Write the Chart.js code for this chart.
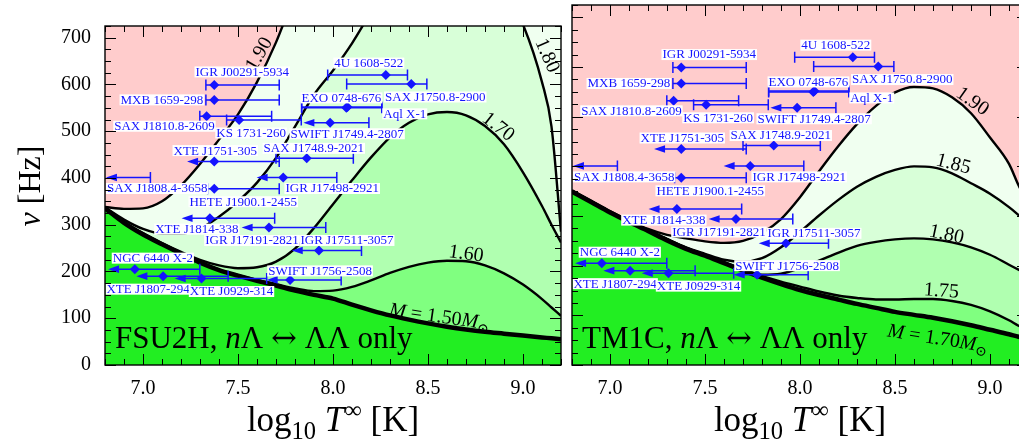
<!DOCTYPE html>
<html>
<head>
<meta charset="utf-8">
<script src="https://cdn.jsdelivr.net/npm/chart.js@4.4.1/dist/chart.umd.min.js"></script>
<style>
  html, body { margin: 0; padding: 0; background: #fff; overflow: hidden; }
  #wrap { position: relative; width: 1019px; height: 448px; overflow: hidden; }
  #left { position: absolute; left: 0; top: 0; }
  #right { position: absolute; left: 566px; top: 0; }
</style>
</head>
<body>
<div id="wrap">
  <canvas id="left" width="566" height="448"></canvas>
  <canvas id="right" width="470" height="448"></canvas>
</div>
<script>
// log10 T grid shared by all boundary curves
const temps = [6.8, 6.9, 7.0, 7.1, 7.2, 7.3, 7.4, 7.5, 7.6, 7.7, 7.8, 7.9, 8.0,
               8.1, 8.2, 8.3, 8.4, 8.5, 8.6, 8.7, 8.8, 8.9, 9.0, 9.1, 9.15, 9.2];

// FSU2H: instability boundary (Hz) for each mass
const fsuM150 = [335, 304, 279, 258, 238, 219, 203, 191, 180, 170, 159, 150, 142, 129, 117, 106, 97, 89, 82, 76, 71, 67, 63, 59, 57, 55];
const fsuM160 = [336, 305, 280, 259, 239, 220, 204, 192, 182, 173, 164, 158, 159, 167, 181, 197, 210, 219, 223, 222, 213, 196, 172, 141, 123, 105];
const fsuM170 = [336, 306, 282, 261, 242, 225, 213, 207, 209, 221, 249, 293, 344, 395, 444, 487, 518, 536, 541, 534, 511, 472, 412, 340, 300, 262];
const fsuM180 = [337, 311, 291, 281, 281, 292, 317, 350, 390, 443, 510, 578, 630, 688, 755, 820, 868, 896, 906, 898, 862, 802, 728, 605, 510, 285];
const fsuM190 = [338, 334, 335, 350, 384, 430, 482, 536, 605, 690, 795, 900, 1000, 1080, 1130, 1150, 1160, 1160, 1160, 1160, 1160, 1160, 1160, 1160, 1160, 1160];

// TM1C
const tmM170 = [349, 328, 307, 288, 270, 251, 234, 220, 205, 190, 176, 163, 151, 141, 132, 123, 115, 107, 101, 95, 88, 80, 71, 62, 57, 53];
const tmM175 = [350, 329, 308, 289, 271, 252, 235, 221, 206, 192, 179, 168, 158, 148, 140, 135, 132, 132, 133, 133, 129, 121, 108, 90, 79, 70];
const tmM180 = [350, 329, 308, 289, 271, 253, 236, 222, 207, 193, 182, 184, 195, 210, 226, 240, 248, 253, 255, 253, 247, 237, 222, 202, 192, 182];
const tmM185 = [351, 330, 309, 290, 272, 254, 237, 224, 212, 208, 215, 237, 268, 301, 332, 359, 379, 393, 400, 398, 386, 366, 345, 318, 302, 285];
const tmM190 = [352, 331, 310, 291, 274, 262, 255, 249, 246, 250, 266, 294, 338, 390, 440, 485, 522, 549, 560, 557, 539, 507, 458, 405, 362, 325];

// observed LMXBs
const srcNames = ['IGR J00291-5934', 'MXB 1659-298', 'SAX J1810.8-2609', 'KS 1731-260',
  'SWIFT J1749.4-2807', 'EXO 0748-676', 'Aql X-1', '4U 1608-522', 'SAX J1750.8-2900',
  'XTE J1751-305', 'SAX J1748.9-2021', 'SAX J1808.4-3658', 'IGR J17498-2921',
  'HETE J1900.1-2455', 'XTE J1814-338', 'IGR J17191-2821', 'IGR J17511-3057',
  'NGC 6440 X-2', 'XTE J1807-294', 'XTE J0929-314', 'SWIFT J1756-2508'];
const srcLogT = [7.375, 7.375, 7.335, 7.506, 7.985, 8.076, 8.070, 8.278, 8.412,
  7.375, 7.862, 6.700, 7.738, 7.375, 7.352, 7.663, 7.926, 6.957, 7.106, 7.308, 7.774];
const srcFreq = [599, 567, 532, 524, 518, 552, 550, 620, 601,
  435, 442, 401, 401, 377, 314, 294, 245, 205, 190, 185, 182];
const srcLow = [7.331, 7.331, 7.299, 7.440, 7.844, 7.835, 7.835, 7.972, 8.072,
  7.232, 7.700, 6.805, 7.598, 7.340, 7.203, 7.519, 7.783, 6.816, 6.965, 7.167, 7.651];
const srcHigh = [7.717, 7.717, 7.677, 7.833, 8.189, 8.257, 8.257, 8.392, 8.494,
  7.717, 8.107, 7.039, 8.020, 7.717, 7.693, 7.962, 8.150, 7.299, 7.448, 7.651, 8.043];
const srcUpperLimit = [false, false, false, false, true, false, false, false, false,
  true, false, true, true, false, true, true, true, true, true, true, true];

const xTickValues = [7.0, 7.5, 8.0, 8.5, 9.0];
const yTickValues = [0, 100, 200, 300, 400, 500, 600, 700];

// ---- layout / style ----
const SERIF = '"Liberation Serif", "DejaVu Serif", serif';
const BLUE = '#1414ff';
const fillColors = ['#22ee22', '#80ff80', '#b0ffb0', '#d8ffd8', '#f0fff0'];
const PINK = '#ffcccc';

// source label placement: [dx, dy, align] in px from the diamond
const labelPlace = {
  'IGR J00291-5934': [28, -13, 'center'], 'MXB 1659-298': [-11, 0, 'right'],
  'SAX J1810.8-2609': [8, 10, 'right'], 'KS 1731-260': [12, 13, 'center'],
  'SWIFT J1749.4-2807': [17, 11, 'center'], 'EXO 0748-676': [-6, -9, 'center'],
  'Aql X-1': [37, 6, 'left'], '4U 1608-522': [-17, -12, 'center'],
  'SAX J1750.8-2900': [24, 13, 'center'], 'XTE J1751-305': [1, -11, 'center'],
  'SAX J1748.9-2021': [7, -10, 'center'], 'SAX J1808.4-3658': [21, 11, 'left'],
  'IGR J17498-2921': [49, 11, 'center'], 'HETE J1900.1-2455': [29, 13, 'center'],
  'XTE J1814-338': [-13, 11, 'center'], 'IGR J17191-2821': [-17, 13, 'center'],
  'IGR J17511-3057': [28, -10, 'center'], 'NGC 6440 X-2': [18, -11, 'center'],
  'XTE J1807-294': [-15, 13, 'center'], 'XTE J0929-314': [30, 13, 'center'],
  'SWIFT J1756-2508': [30, -9, 'center']
};

const mLabel = m => [{ t: 'M', it: 1 }, { t: ' = ' + m }, { t: 'M', it: 1 }, { t: '\u2299', sub: 1 }];
const fsuCurveLabels = [
  { segs: [{ t: '1.90' }], x: 7.637, y: 674, rot: -60 },
  { segs: [{ t: '1.80' }], x: 9.100, y: 672, rot: 66 },
  { segs: [{ t: '1.70' }], x: 8.852, y: 515, rot: 38 },
  { segs: [{ t: '1.60' }], x: 8.697, y: 241, rot: 8 },
  { segs: mLabel('1.50'), x: 8.556, y: 106, rot: 8 }
];
const tmCurveLabels = [
  { segs: [{ t: '1.90' }], x: 8.891, y: 536, rot: 35 },
  { segs: [{ t: '1.85' }], x: 8.800, y: 408, rot: 15 },
  { segs: [{ t: '1.80' }], x: 8.765, y: 266, rot: 12 },
  { segs: [{ t: '1.75' }], x: 8.742, y: 152, rot: 4 },
  { segs: mLabel('1.70'), x: 8.720, y: 56, rot: 9 }
];

function segFont(sg, size) {
  const s = (sg.sub || sg.sup) ? size * 0.7 : size;
  const fam = sg.fam || SERIF;
  return (sg.it ? 'italic ' : '') + s + 'px ' + fam;
}

// draw mixed roman/italic/sub/sup text, (x, y) is the baseline anchor
function drawRich(ctx, segs, x, y, size, align, rot) {
  ctx.save();
  ctx.translate(x, y);
  if (rot) ctx.rotate(rot * Math.PI / 180);
  let w = 0;
  segs.forEach(sg => { ctx.font = segFont(sg, size); w += ctx.measureText(sg.t).width; });
  let cx = align === 'center' ? -w / 2 : (align === 'right' ? -w : 0);
  ctx.textAlign = 'left';
  ctx.textBaseline = 'alphabetic';
  ctx.fillStyle = '#000';
  segs.forEach(sg => {
    ctx.font = segFont(sg, size);
    const dy = sg.sub ? size * 0.22 : (sg.sup ? -size * 0.38 : 0);
    ctx.fillText(sg.t, cx, dy);
    cx += ctx.measureText(sg.t).width;
  });
  ctx.restore();
}

const backgroundPlugin = {
  id: 'pinkBg',
  beforeDatasetsDraw(chart) {
    const { ctx, chartArea: a } = chart;
    ctx.save();
    ctx.fillStyle = PINK;
    ctx.fillRect(a.left, a.top, a.right - a.left, a.bottom - a.top);
    ctx.restore();
  }
};

const sourcesPlugin = {
  id: 'sources',
  afterDatasetsDraw(chart) {
    const { ctx, chartArea: a, scales: { x, y } } = chart;
    ctx.save();
    ctx.beginPath();
    ctx.rect(a.left, a.top, a.right - a.left, a.bottom - a.top);
    ctx.clip();

    // curve labels
    chart.options.plugins.sources.curveLabels.forEach(cl => {
      drawRich(ctx, cl.segs, x.getPixelForValue(cl.x), y.getPixelForValue(cl.y) + 7, 20, 'center', cl.rot);
    });

    // error bars and upper limits
    ctx.strokeStyle = BLUE;
    ctx.fillStyle = BLUE;
    ctx.lineWidth = 1.5;
    srcNames.forEach((name, i) => {
      const py = y.getPixelForValue(srcFreq[i]);
      const xl = x.getPixelForValue(srcLow[i]);
      const xh = x.getPixelForValue(srcHigh[i]);
      ctx.beginPath();
      ctx.moveTo(xl + (srcUpperLimit[i] ? 6 : 0), py);
      ctx.lineTo(xh, py);
      ctx.moveTo(xh, py - 5.5);
      ctx.lineTo(xh, py + 5.5);
      if (!srcUpperLimit[i]) {
        ctx.moveTo(xl, py - 5.5);
        ctx.lineTo(xl, py + 5.5);
      }
      ctx.stroke();
      if (srcUpperLimit[i]) {
        ctx.beginPath();
        ctx.moveTo(xl, py);
        ctx.lineTo(xl + 11, py - 3.8);
        ctx.lineTo(xl + 11, py + 3.8);
        ctx.closePath();
        ctx.fill();
      }
    });

    // source names
    ctx.font = '13px ' + SERIF;
    ctx.textBaseline = 'middle';
    srcNames.forEach((name, i) => {
      const [dx, dy, align] = labelPlace[name];
      const px = x.getPixelForValue(srcLogT[i]) + dx;
      const py = y.getPixelForValue(srcFreq[i]) + dy;
      const w = ctx.measureText(name).width;
      const left = align === 'center' ? px - w / 2 : (align === 'right' ? px - w : px);
      ctx.fillStyle = '#fff';
      ctx.fillRect(left - 1, py - 5.5, w + 2, 11);
      ctx.fillStyle = BLUE;
      ctx.textAlign = 'left';
      ctx.fillText(name, left, py + 0.5);
    });
    ctx.restore();
  },
  afterDraw(chart) {
    const { ctx, chartArea: a, scales: { x, y } } = chart;
    const opts = chart.options.plugins.sources;
    ctx.save();
    ctx.strokeStyle = '#000';
    ctx.lineWidth = 1;
    ctx.beginPath();
    for (let k = Math.round(x.min * 10); k <= Math.round(x.max * 10); k++) {
      const px = Math.round(x.getPixelForValue(k / 10)) + 0.5;
      const len = k % 5 === 0 ? 11 : 6;
      ctx.moveTo(px, a.bottom); ctx.lineTo(px, a.bottom - len);
      ctx.moveTo(px, a.top); ctx.lineTo(px, a.top + len);
    }
    for (let v = 0; v <= y.max; v += 25) {
      const py = Math.round(y.getPixelForValue(v)) + 0.5;
      const len = v % 100 === 0 ? 11 : 6;
      ctx.moveTo(a.left, py); ctx.lineTo(a.left + len, py);
      ctx.moveTo(a.right, py); ctx.lineTo(a.right - len, py);
    }
    ctx.stroke();
    ctx.lineWidth = 1.4;
    ctx.strokeRect(a.left, a.top, a.right - a.left, a.bottom - a.top);
    ctx.restore();

    // panel tag
    drawRich(ctx, opts.tag, a.left + 10, 348, 31, 'left', 0);
    // x title
    drawRich(ctx, [{ t: 'log' }, { t: '10', sub: 1 }, { t: ' ' }, { t: 'T', it: 1 }, { t: '\u221E', sup: 1 }, { t: ' [K]' }],
      (a.left + a.right) / 2, 431, 35, 'center', 0);
    if (opts.yTitle) {
      drawRich(ctx, [{ t: '\u03BD', it: 1 }, { t: ' [Hz]' }], 40, 186, 32, 'center', -90);
    }
  }
};

function makePanel(id, curves, curveLabels, tag, showY, padding) {
  const datasets = curves.map((c, i) => ({
    data: temps.map((t, j) => ({ x: t, y: c[j] })),
    borderColor: '#000',
    borderWidth: i === 0 ? 4.5 : 2.4,
    backgroundColor: fillColors[i],
    fill: i === 0 ? 'start' : '-1',
    pointRadius: 0,
    cubicInterpolationMode: 'monotone',
    clip: 0,
    order: 0
  }));
  datasets.push({
    data: srcLogT.map((t, i) => ({ x: t, y: srcFreq[i] })),
    showLine: false,
    pointStyle: 'rectRot',
    pointRadius: 5,
    backgroundColor: BLUE,
    borderColor: BLUE,
    borderWidth: 0,
    clip: 0,
    order: -1
  });
  return new Chart(document.getElementById(id), {
    type: 'line',
    data: { datasets },
    plugins: [backgroundPlugin, sourcesPlugin],
    options: {
      responsive: false,
      animation: false,
      events: [],
      layout: { padding },
      plugins: {
        legend: { display: false },
        tooltip: { enabled: false },
        sources: { curveLabels, tag, yTitle: showY }
      },
      scales: {
        x: {
          type: 'linear', min: 6.8, max: 9.2,
          afterBuildTicks: s => { s.ticks = xTickValues.map(v => ({ value: v })); },
          afterFit: s => { s.height = 83; },
          ticks: { autoSkip: false, maxRotation: 0, padding: 12, color: '#000',
                   font: { family: SERIF, size: 20 }, callback: v => v.toFixed(1) },
          grid: { display: false, drawTicks: false },
          border: { display: false }
        },
        y: {
          type: 'linear', min: 0, max: 725, display: showY,
          afterBuildTicks: s => { s.ticks = yTickValues.map(v => ({ value: v })); },
          afterFit: s => { s.width = showY ? 105 : 0; },
          ticks: { padding: 14, color: '#000', font: { family: SERIF, size: 20 } },
          grid: { display: false, drawTicks: false },
          border: { display: false }
        }
      }
    }
  });
}

const tagTail = [{ t: '\u039B ' }, { t: '\u2194', fam: '"DejaVu Serif", serif' }, { t: ' \u039B\u039B only' }];
makePanel('left', [fsuM150, fsuM160, fsuM170, fsuM180, fsuM190], fsuCurveLabels,
  [{ t: 'FSU2H, ' }, { t: 'n', it: 1 }].concat(tagTail), true,
  { left: 0, right: 5, top: 4, bottom: 0 });
makePanel('right', [tmM170, tmM175, tmM180, tmM185, tmM190], tmCurveLabels,
  [{ t: 'TM1C, ' }, { t: 'n', it: 1 }].concat(tagTail), false,
  { left: 6, right: 8, top: 4, bottom: 0 });
</script>
</body>
</html>
